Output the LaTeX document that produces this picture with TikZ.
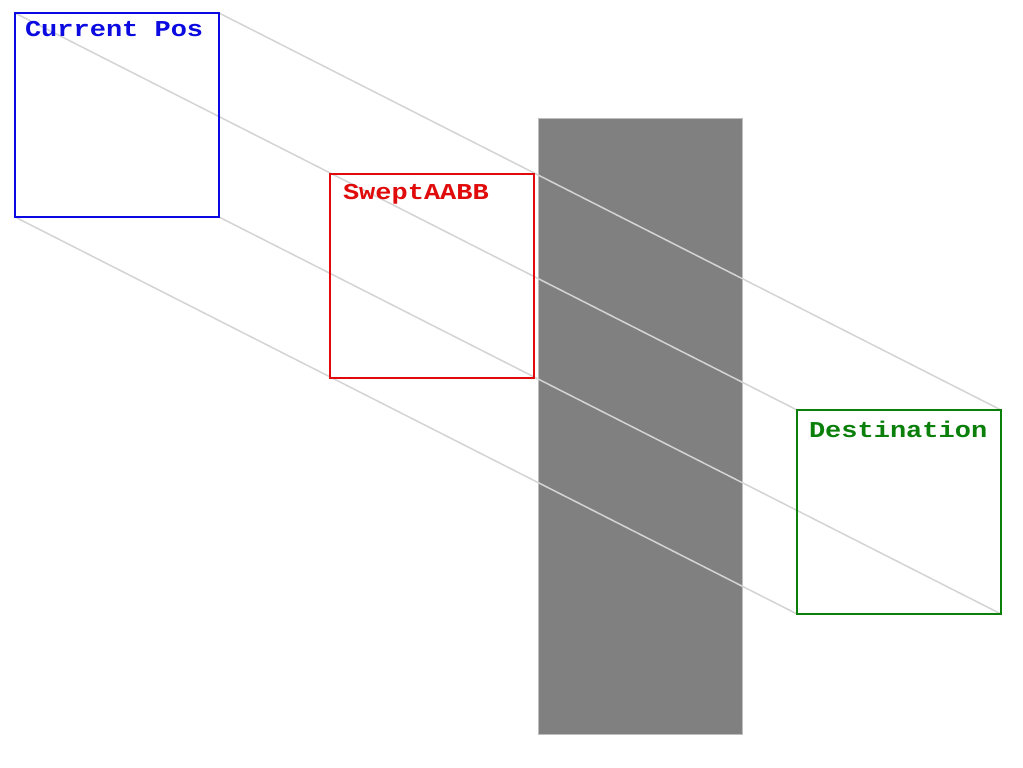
\documentclass[tikz,border=0pt]{standalone}
\usepackage{fontspec}
\usepackage{graphicx}
\newfontfamily\pixfont{Liberation Mono}
\definecolor{cblue}{RGB}{10,10,225}
\definecolor{cred}{RGB}{225,10,10}
\definecolor{cgreen}{RGB}{10,128,10}
\definecolor{sweep}{RGB}{212,212,212}
\definecolor{wall}{RGB}{128,128,128}
\definecolor{walledge}{RGB}{190,190,190}
\newcommand{\squash}[1]{\scalebox{1}[0.84]{#1}}
\tikzset{
  box/.style={draw, line width=2pt, anchor=north west, minimum width=204pt, minimum height=204pt, inner sep=0pt, outer sep=0pt},
  lbl/.style={anchor=base west, inner sep=0pt, outer sep=0pt, font=\pixfont\bfseries\fontsize{27}{27}\selectfont},
  sweepline/.style={draw=sweep, line width=1.5pt},
}
\begin{document}
\begin{tikzpicture}[x=1pt,y=-1pt]
\useasboundingbox[fill=white] (0,0) rectangle (1023,768);
\node[draw=walledge, fill=wall, line width=1pt, anchor=north west, minimum width=204pt, minimum height=616pt, inner sep=0pt, outer sep=0pt] (wall) at (538,118) {};
\node[box, draw=cblue] (cur) at (15,13) {};
\node[box, draw=cgreen] (dst) at (797,410) {};
\draw[sweepline] (cur.north west) -- (dst.north west);
\draw[sweepline] (cur.north east) -- (dst.north east);
\draw[sweepline] (cur.south west) -- (dst.south west);
\draw[sweepline] (cur.south east) -- (dst.south east);
\node[box, draw=cblue] at (15,13) {};
\node[box, draw=cgreen] at (797,410) {};
\node[box, draw=cred] (swept) at (330,174) {};
\node[lbl, text=cblue] (curlbl) at ([shift={(10,24)}]cur.north west) {\squash{Current Pos}};
\node[lbl, text=cred] (sweptlbl) at ([shift={(13,25)}]swept.north west) {\squash{SweptAABB}};
\node[lbl, text=cgreen] (dstlbl) at ([shift={(12,27)}]dst.north west) {\squash{Destination}};
\end{tikzpicture}
\end{document}
